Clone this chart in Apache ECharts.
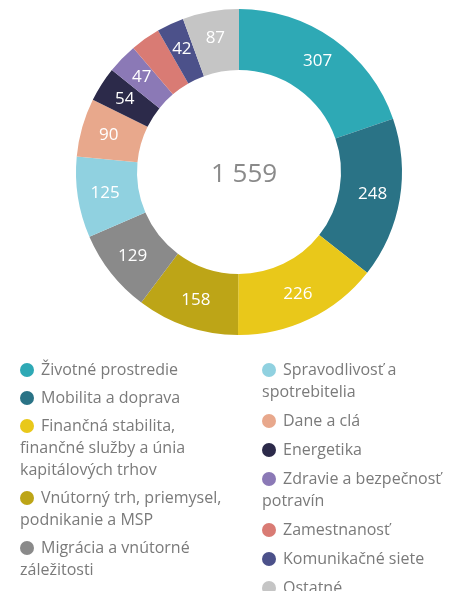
<!DOCTYPE html>
<html>
<head>
<meta charset="utf-8">
<script src="https://cdn.jsdelivr.net/npm/echarts@6/dist/echarts.min.js"></script>
<style>
  html, body { margin: 0; padding: 0; background: #fff; }
  #chart { width: 453px; height: 591px; }
</style>
</head>
<body>
<div id="chart"></div>
<script>
// data
const categories = [
  'Životné prostredie',
  'Mobilita a doprava',
  'Finančná stabilita, finančné služby a únia kapitálových trhov',
  'Vnútorný trh, priemysel, podnikanie a MSP',
  'Migrácia a vnútorné záležitosti',
  'Spravodlivosť a spotrebitelia',
  'Dane a clá',
  'Energetika',
  'Zdravie a bezpečnosť potravín',
  'Zamestnanosť',
  'Komunikačné siete',
  'Ostatné'
]
const values = [307, 248, 226, 158, 129, 125, 90, 54, 47, 46, 42, 87]
const colors = ['#2ea9b5', '#2a7386', '#e9c81a', '#bda517', '#8a8a8a', '#90d1e0',
  '#e8a88c', '#2c2a4a', '#8b79b6', '#d97b74', '#4c518a', '#c5c5c5']
// legend text as wrapped in the original
const legendLines = [
  'Životné prostredie',
  'Mobilita a doprava',
  'Finančná stabilita,\nfinančné služby a únia\nkapitálových trhov',
  'Vnútorný trh, priemysel,\npodnikanie a MSP',
  'Migrácia a vnútorné\nzáležitosti',
  'Spravodlivosť a\nspotrebitelia',
  'Dane a clá',
  'Energetika',
  'Zdravie a bezpečnosť\npotravín',
  'Zamestnanosť',
  'Komunikačné siete',
  'Ostatné'
]

const total = values.reduce((a, b) => a + b, 0)
const totalText = String(total).replace(/\B(?=(\d{3})+(?!\d))/g, ' ')

const FONT = 'Open Sans'
const TEXT_STYLE = { fontFamily: FONT, fontSize: 16, color: '#7a7a7a', lineHeight: 22 }

// rich styles: one dot per category
const rich = { t: TEXT_STYLE, f: Object.assign({}, TEXT_STYLE, { padding: [0, 0, 0, 7] }) }
colors.forEach((c, i) => {
  rich['c' + i] = { width: 14, height: 14, borderRadius: 7, backgroundColor: c }
})

const legendFormatter = name => {
  const i = categories.indexOf(name)
  const lines = legendLines[i].split('\n')
  return lines.map((l, k) => (k === 0 ? '{c' + i + '|}{f|' + l + '}' : '{t|' + l + '}')).join('\n')
}

const legendBase = {
  orient: 'vertical',
  icon: 'none',
  itemWidth: 0,
  itemHeight: 14,
  itemGap: 6,
  padding: 0,
  height: 400,
  selectedMode: false,
  formatter: legendFormatter,
  textStyle: Object.assign({}, TEXT_STYLE, { rich: rich })
}

const chart = echarts.init(document.getElementById('chart'))
chart.setOption({
  animation: false,
  color: colors,
  title: {
    text: totalText,
    left: 239,
    top: 157,
    textAlign: 'center',
    textStyle: { fontFamily: FONT, fontSize: 26, fontWeight: 'normal', color: '#8a8a8a' }
  },
  legend: [
    Object.assign({}, legendBase, { left: 15, top: 359, data: categories.slice(0, 5) }),
    Object.assign({}, legendBase, { left: 257, top: 359, itemGap: 7, data: categories.slice(5) })
  ],
  series: [{
    type: 'pie',
    center: [239, 172],
    radius: [102, 163],
    startAngle: 90,
    clockwise: true,
    avoidLabelOverlap: false,
    label: {
      show: true,
      position: 'inside',
      formatter: '{c}',
      color: '#fff',
      fontFamily: FONT,
      fontSize: 17
    },
    labelLine: { show: false },
    emphasis: { disabled: true },
    data: categories.map((n, i) => ({ name: n, value: values[i] }))
  }]
})
</script>
</body>
</html>
